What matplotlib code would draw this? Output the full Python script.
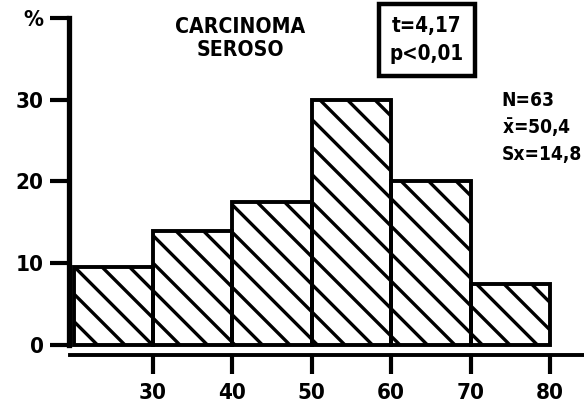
import matplotlib
matplotlib.use('Agg')
import matplotlib.pyplot as plt

# dati
bin_left = [20, 30, 40, 50, 60, 70]
percent = [9.5, 14.0, 17.5, 30.0, 20.0, 7.5]
xticks = [30, 40, 50, 60, 70, 80]
yticks = [0, 10, 20, 30, 40]
ytick_labels = ['0', '10', '20', '30', '%']

DPI = 165
k = 200 / DPI  # fattore per tenere le dimensioni in pixel

plt.rcParams['hatch.linewidth'] = 1.2 * k
plt.rcParams['hatch.color'] = 'black'
plt.rcParams['font.family'] = 'DejaVu Sans'
plt.rcParams['font.stretch'] = 'condensed'
plt.rcParams['font.weight'] = 'bold'

fig = plt.figure(figsize=(584 / DPI, 406 / DPI), dpi=DPI)
ax = fig.add_axes([0, 0, 1, 1])
ax.set_xlim(10.73, 84.28)
ax.set_ylim(-7.47, 42.2)

ax.bar(bin_left, percent, width=10, align='edge', fill=False, hatch='\\\\',
       edgecolor='black', linewidth=1.4 * k)

for s in ['top', 'right']:
    ax.spines[s].set_visible(False)
ax.spines['left'].set_position(('data', 19.4))
ax.spines['left'].set_bounds(0, 40)
ax.spines['left'].set_linewidth(1.9 * k)
ax.spines['bottom'].set_position(('data', -1.2))
ax.spines['bottom'].set_bounds(19.6, 84.28)
ax.spines['bottom'].set_linewidth(1.4 * k)

ax.set_xticks(xticks)
ax.set_xticklabels([str(v) for v in xticks])
ax.set_yticks(yticks)
ax.set_yticklabels(ytick_labels)
ax.tick_params(axis='both', direction='out', length=7 * k, width=1.5 * k,
               labelsize=8.0 * k, pad=2 * k)
ax.tick_params(axis='x', pad=3 * k)

ax.text(41.0, 37.5, 'CARCINOMA\nSEROSO', ha='center', va='center',
        fontsize=7.6 * k, fontweight='bold', linespacing=1.2)
ax.text(64.5, 37.3, 't=4,17\np<0,01', ha='center', va='center',
        fontsize=7.4 * k, fontweight='bold', linespacing=1.55,
        bbox=dict(boxstyle='square,pad=0.55', fc='white', ec='black', lw=1.6 * k))
ax.text(73.9, 26.6, 'N=63\n$\\bar{\\mathbf{x}}$=50,4\nSx=14,8', ha='left', va='center',
        fontsize=6.9 * k, fontweight='bold', linespacing=1.4)

fig.savefig('out.png', dpi=DPI)
